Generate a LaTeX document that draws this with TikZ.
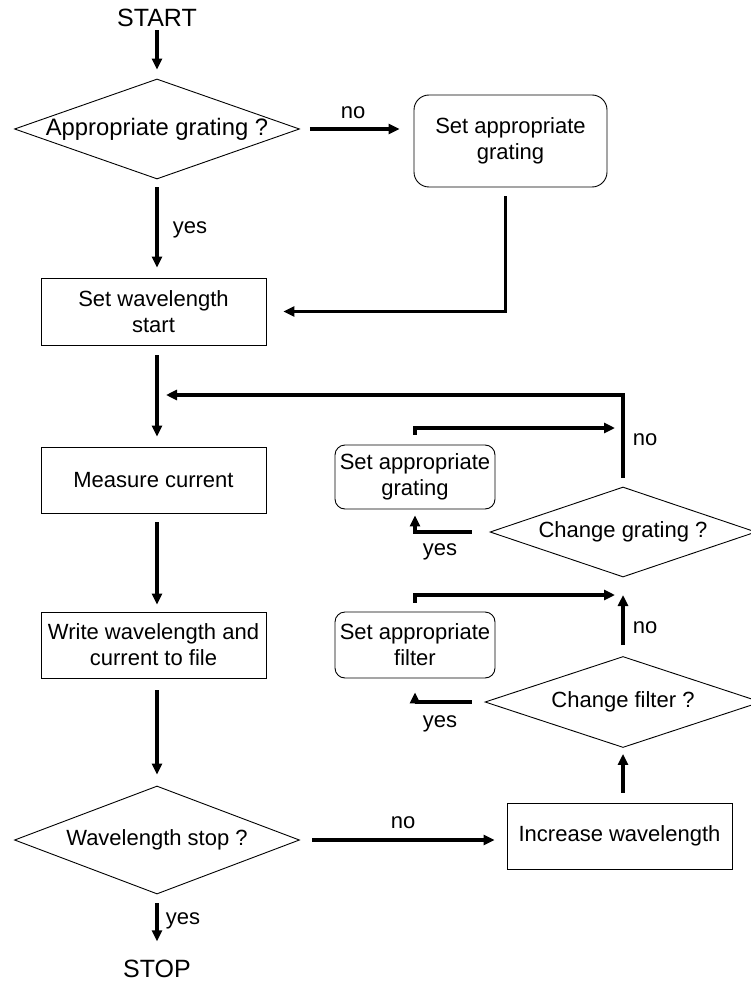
\documentclass[tikz,border=0pt]{standalone}
\usepackage{fontspec}
\setmainfont{Liberation Sans}
\usetikzlibrary{shapes.geometric,arrows.meta,calc}
\begin{document}
\begin{tikzpicture}[x=1pt,y=-1pt,
  every node/.style={font=\fontsize{22}{26}\selectfont},
  big/.style={font=\fontsize{25}{29}\selectfont},
  box/.style={draw,line width=0.9pt,inner sep=0pt,align=center,minimum width=225pt,minimum height=66pt},
  rbox/.style={draw,line width=0.9pt,inner sep=0pt,align=center,rounded corners=#1},
  dia/.style={draw,diamond,line width=0.9pt,inner sep=0pt,aspect=3},
  arr/.style={line width=3.2pt,-{Triangle[length=11pt,width=10pt]}},
  lbl/.style={inner sep=0pt}]
\useasboundingbox (0,0) rectangle (750,981);

% nodes
\node[big,anchor=base,inner sep=0pt] (start) at (157,27) {START};
\node[dia,inner xsep=-7pt,minimum width=285pt,minimum height=100pt,font=\fontsize{23.8}{27}\selectfont] (d1) at (157,129) {Appropriate grating ?};
\node[rbox=15pt,minimum width=193pt,minimum height=92pt] (sag) at (510.5,141) {Set appropriate\\grating};
\node[box,minimum height=67pt] (sw) at (153.5,311.5) {Set wavelength\\start};
\node[box] (mc) at (153.5,480) {Measure current};
\node[box] (wr) at (153.5,645) {Write wavelength and\\current to file};
\node[dia,minimum width=285pt,minimum height=108pt] (dws) at (157,840) {Wavelength stop ?};
\node[big,anchor=base,inner sep=0pt] (stop) at (157,977) {STOP};
\node[box] (iw) at (619.5,836) {Increase wavelength};
\node[dia,minimum width=276pt,minimum height=91pt] (dcf) at (623,702) {Change filter ?};
\node[rbox=10pt,minimum width=160pt,minimum height=66pt] (sf) at (415,645) {Set appropriate\\filter};
\node[dia,minimum width=266pt,minimum height=90pt] (dcg) at (623,532) {Change grating ?};
\node[rbox=10pt,minimum width=160pt,minimum height=64pt] (sg) at (415,477) {Set appropriate\\grating};

\coordinate (j) at (157,395);
\coordinate (m1) at (623,428);
\coordinate (m2) at (623,595);

% labels
\node[lbl] (lno1) at (353,113) {no};
\node[lbl] (lyes1) at (190,230) {yes};
\node[lbl] (lno2) at (645,440) {no};
\node[lbl] (lyes2) at (440,552) {yes};
\node[lbl] (lno3) at (645,628) {no};
\node[lbl] (lyes3) at (440,724) {yes};
\node[lbl] (lno4) at (403,823) {no};
\node[lbl] (lyes4) at (183,921) {yes};

% connectors
\draw[arr] ($(start.south)+(0,3)$) -- ($(d1.north)+(0,-9)$);
\draw[arr] ($(d1.south)+(0,8)$) -- ($(sw.north -| d1.south)+(0,-10)$);
\draw[arr] ($(d1.east)+(10,0)$) -- ($(sag.west |- d1.east)+(-14,0)$);
\draw[arr] ($(sag.south)+(-5,9)$) |- ($(sw.east)+(17,0)$);
\draw[arr] ($(sw.south -| d1.south)+(0,10)$) -- ($(mc.north -| d1.south)+(0,-10)$);
\draw[arr,shorten >=9pt] ($(dcg.north)+(0,-9)$) |- (j);
\draw[arr] ($(sg.north)+(0,-10)$) |- ($(m1)+(-8,0)$);
\draw[arr] ($(dcg.west)+(-18,0)$) -| ($(sg.south)+(0,6)$);
\draw[arr] ($(sf.north)+(0,-9)$) |- ($(m2)+(-8,0)$);
\draw[arr] ($(dcf.north)+(0,-11)$) -- (m2);
\draw[arr] ($(dcf.west)+(-13,0)$) -| ($(sf.south)+(0,14)$);
\draw[arr] ($(iw.north -| dcf.south)+(0,-10)$) -- ($(dcf.south)+(0,6)$);
\draw[arr] ($(mc.south -| d1.south)+(0,9)$) -- ($(wr.north -| d1.south)+(0,-7)$);
\draw[arr] ($(wr.south -| d1.south)+(0,12)$) -- ($(dws.north)+(0,-11)$);
\draw[arr] ($(dws.east)+(12.5,0)$) -- ($(iw.west |- dws.east)+(-12,0)$);
\draw[arr] ($(dws.south)+(0,9)$) -- ($(stop.north)+(0,-18)$);
\end{tikzpicture}
\end{document}
